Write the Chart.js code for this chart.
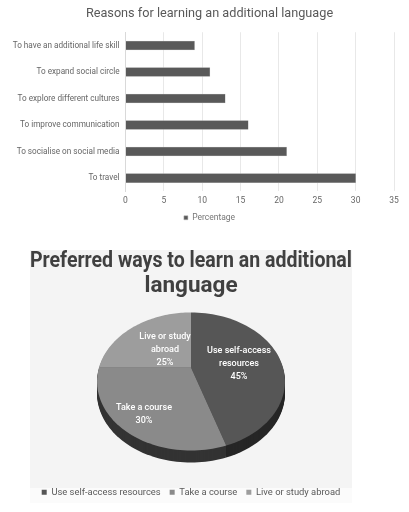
<!DOCTYPE html>
<html><head><meta charset="utf-8">
<script src="https://cdn.jsdelivr.net/npm/chart.js@4"></script>
<style>
html,body{margin:0;padding:0;background:#fff;width:409px;height:512px;overflow:hidden}
canvas{position:absolute;filter:blur(0.35px)}
#bar{left:0;top:0}
#pie{left:30px;top:245px;background:linear-gradient(#f4f4f4 0,#f4f4f4 238px,#fbfbfb 238px,#fbfbfb 253px,#fff 253px);background-size:100% 100%;background-position:0 5px;background-repeat:no-repeat}
</style></head><body>
<canvas id="bar" width="409" height="232"></canvas>
<canvas id="pie" width="322" height="262"></canvas>
<script>
const reasons=["To have an additional life skill","To expand social circle","To explore different cultures","To improve communication","To socialise on social media","To travel"];
const reasonValues=[9,11,13,16,21,30];
const xTicks=[0,5,10,15,20,25,30,35];
const ways=["Use self-access resources","Take a course","Live or study abroad"];
const wayValues=[45,30,25];
const wayLabelLines=[["Use self-access","resources","45%"],["Take a course","30%"],["Live or study","abroad","25%"]];
const wayColors=["#565656","#8a8a8a","#9d9d9d"];
const sideColors=["#262626","#333333","#555555"];
const FONT="Roboto";

new Chart(document.getElementById('bar'),{
  type:'bar',
  data:{labels:reasons,datasets:[{label:'Percentage',data:reasonValues,backgroundColor:'#595959',borderColor:'#b5b5b5',borderWidth:0.5,barThickness:9}]},
  options:{
    indexAxis:'y',responsive:false,animation:false,devicePixelRatio:1,
    layout:{padding:{left:25,right:15,top:0,bottom:0}},
    plugins:{
      title:{display:true,text:'Reasons for learning an additional language',color:'#595959',font:{family:FONT,size:12.7,weight:'normal'},padding:{top:6,bottom:11}},
      legend:{position:'bottom',labels:{boxWidth:4,boxHeight:4,color:'#777',font:{family:FONT,size:8.5},padding:4}},
      tooltip:{enabled:false}
    },
    scales:{
      x:{min:0,max:35,afterBuildTicks:s=>{s.ticks=xTicks.map(v=>({value:v}))},
         grid:{color:'#e8e8e8',lineWidth:1,drawTicks:false},border:{display:false},
         ticks:{color:'#666',font:{family:FONT,size:8.5},padding:4}},
      y:{grid:{display:false,drawTicks:false},border:{color:'#d9d9d9'},
         afterFit:s=>{s.width=100.5;s._computeLabelArea=()=>undefined},
         ticks:{color:'#666',font:{family:FONT,size:8.2},padding:6}}
    }
  }
});

const view={dy:-24,a:92,b:66.2,k:-0.203,depth:12};
function project(el,t){
  const u=Math.cos(t),v=Math.sin(t),d=1+view.k*v;
  return [el.x+view.a*u/d, el.y+view.dy+view.b*v/d];
}
function wedge(ctx,el,off){
  const n=60;
  ctx.beginPath();
  ctx.moveTo(el.x,el.y+view.dy+off);
  for(let i=0;i<=n;i++){
    const p=project(el,el.startAngle+(el.endAngle-el.startAngle)*i/n);
    ctx.lineTo(p[0],p[1]+off);
  }
  ctx.closePath();
}
Chart.ArcElement.prototype.draw=function(ctx){
  wedge(ctx,this,0);
  ctx.fillStyle=this.options.backgroundColor;
  ctx.fill();
};
const tilt={
  id:'tilt',
  beforeDatasetsDraw(chart){
    const ctx=chart.ctx,els=chart.getDatasetMeta(0).data;
    ctx.save();
    for(let off=view.depth;off>=1;off--){
      els.forEach((el,i)=>{wedge(ctx,el,off);ctx.fillStyle=sideColors[i];ctx.fill();});
    }
    ctx.restore();
  },
  afterDatasetsDraw(chart){
    const ctx=chart.ctx,els=chart.getDatasetMeta(0).data;
    const nudge=[[48,-17],[-47,40],[-26,-31]];
    ctx.save();
    ctx.fillStyle='#fff';ctx.textAlign='center';ctx.textBaseline='middle';
    ctx.font="500 9px "+FONT;
    els.forEach((el,i)=>{
      const lines=wayLabelLines[i];
      lines.forEach((s,j)=>ctx.fillText(s,el.x+nudge[i][0],el.y+view.dy+nudge[i][1]+j*13));
    });
    ctx.restore();
  }
};
new Chart(document.getElementById('pie'),{
  type:'pie',
  data:{labels:ways,datasets:[{data:wayValues,backgroundColor:wayColors,borderWidth:0}]},
  options:{
    responsive:false,animation:false,devicePixelRatio:1,
    plugins:{
      title:{display:true,text:['Preferred ways to learn an additional','language'],color:'#404040',font:{family:FONT,size:22.5,weight:'bold',lineHeight:1.12},padding:{top:4,bottom:5}},
      legend:{position:'bottom',labels:{boxWidth:5,boxHeight:5,color:'#595959',font:{family:FONT,size:9.4},padding:9}},
      tooltip:{enabled:false}
    }
  },
  plugins:[tilt]
});
</script>
</body></html>
